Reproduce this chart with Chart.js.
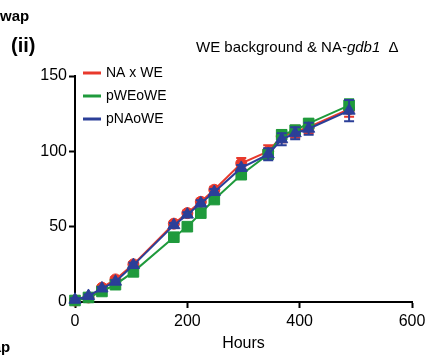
<!DOCTYPE html>
<html>
<head>
<meta charset="utf-8">
<script src="https://cdn.jsdelivr.net/npm/chart.js@4.4.1/dist/chart.umd.min.js"></script>
<style>
html,body{margin:0;padding:0;background:#fff;}
#wrap{width:425px;height:357px;position:relative;}
</style>
</head>
<body>
<div id="wrap"><canvas id="c" width="425" height="357"></canvas></div>
<script>
// ---- data ----
const hours = [0, 24, 48, 72, 104, 176, 200, 224, 248, 296, 344, 368, 392, 416, 488];
const seriesNames = ["NA x WE", "pWEoWE", "pNAoWE"];
const naxwe   = [1, 3, 9.5, 15, 25, 52, 59, 66.5, 74.5, 92, 100, 110, 113, 116, 128];
const pweowe  = [1, 3, 7, 11.5, 20, 43, 50, 59, 68, 84.5, 98, 111, 114, 118.5, 130.5];
const pnaowe  = [1.5, 4, 9, 13.5, 24.5, 51, 58, 65.5, 73, 89, 98, 108, 112, 115, 127];
const naxweErr  = [1, 1, 1, 1.5, 1.5, 1.5, 1.5, 2, 2, 3.5, 4, 4, 4, 4, 5];
const pweoweErr = [1, 1, 1, 1.5, 1.5, 1.5, 1.5, 2, 2, 2, 3, 3, 3, 3, 4];
const pnaoweErr = [1, 1, 1, 1, 1.5, 1.5, 1.5, 2, 2, 2, 4, 4, 4, 4, 7];
const xTicks = [0, 200, 400, 600];
const yTicks = [0, 50, 100, 150];
const titleParts = [["WE background & NA-", false], ["gdb1", true], ["  Δ", false]];

const RED = '#e8392c', GREEN = '#1f9a3c', BLUE = '#2b3f98';
const FONT = '"Liberation Sans", Arial, sans-serif';

function pts(v){ return hours.map((h,i)=>({x:h,y:v[i]})); }

const errPlugin = {
  id:'errbars',
  afterDatasetDraw(chart, args){
    const ds = chart.data.datasets[args.index];
    if(!ds.err) return;
    const ctx = chart.ctx, xs = chart.scales.x, ys = chart.scales.y;
    ctx.save();
    ctx.strokeStyle = ds.borderColor; ctx.lineWidth = 2;
    ds.data.forEach((p,i)=>{
      const e = ds.err[i];
      const px = xs.getPixelForValue(p.x);
      const y1 = ys.getPixelForValue(p.y + e), y2 = ys.getPixelForValue(p.y - e);
      ctx.beginPath();
      ctx.moveTo(px, y1); ctx.lineTo(px, y2);
      ctx.moveTo(px-5, y1); ctx.lineTo(px+5, y1);
      ctx.moveTo(px-5, y2); ctx.lineTo(px+5, y2);
      ctx.stroke();
    });
    ctx.restore();
  }
};

const decoPlugin = {
  id:'deco',
  afterDraw(chart){
    const ctx = chart.ctx;
    ctx.save();
    ctx.fillStyle = '#000';
    ctx.textBaseline = 'middle';
    // panel fragments
    ctx.font = 'bold 15px ' + FONT;
    ctx.textAlign = 'left';
    ctx.fillText('wap', 0, 17);
    ctx.fillText('wap', -19, 348);
    ctx.font = 'bold 20px ' + FONT;
    ctx.fillText('(ii)', 11, 46);
    // title
    let x = 196;
    titleParts.forEach(([t, it])=>{
      ctx.font = (it ? 'italic ' : '') + '15px ' + FONT;
      ctx.fillText(t, x, 48);
      x += ctx.measureText(t).width;
    });
    // legend
    const cols = [RED, GREEN, BLUE];
    const ly = [73, 96, 119];
    ctx.font = '14px ' + FONT;
    seriesNames.forEach((n,i)=>{
      ctx.strokeStyle = cols[i]; ctx.lineWidth = 3;
      ctx.beginPath(); ctx.moveTo(83, ly[i]); ctx.lineTo(101, ly[i]); ctx.stroke();
      ctx.fillStyle = '#000';
      ctx.fillText(n, 106, ly[i]);
    });
    ctx.restore();
  }
};

new Chart(document.getElementById('c'), {
  type:'line',
  data:{
    datasets:[
      {label:seriesNames[2], data:pts(pnaowe), err:pnaoweErr, borderColor:BLUE, backgroundColor:BLUE,
       pointStyle:'triangle', pointRadius:7, borderWidth:2, pointBorderWidth:1, order:0, clip:false},
      {label:seriesNames[0], data:pts(naxwe), err:naxweErr, borderColor:RED, backgroundColor:RED,
       pointStyle:'circle', pointRadius:5.5, borderWidth:2, pointBorderWidth:1, order:2, clip:false},
      {label:seriesNames[1], data:pts(pweowe), err:pweoweErr, borderColor:GREEN, backgroundColor:GREEN,
       pointStyle:'rect', pointRadius:7.5, borderWidth:2, pointBorderWidth:1, order:1, clip:false}
    ]
  },
  options:{
    responsive:false, animation:false,
    layout:{padding:{left:0, top:76, right:0, bottom:0}},
    plugins:{legend:{display:false}, tooltip:{enabled:false}, title:{display:false}},
    scales:{
      x:{type:'linear', min:0, max:600,
         afterBuildTicks(s){ s.ticks = xTicks.map(v=>({value:v})); },
         afterFit(s){ s.height = 55; s.paddingRight = 13; s.paddingLeft = 0; },
         grid:{drawOnChartArea:false, drawTicks:true, tickLength:6, tickColor:'#000', tickWidth:2},
         border:{display:true, color:'#000', width:2},
         ticks:{color:'#000', font:{family:FONT, size:16}, padding:4, maxRotation:0},
         title:{display:true, text:'Hours', color:'#000', font:{family:FONT, size:16}, padding:{top:8}}
      },
      y:{type:'linear', min:0, max:150,
         afterBuildTicks(s){ s.ticks = yTicks.map(v=>({value:v})); },
         afterFit(s){ s.width = 75; s.paddingTop = 0; s.paddingBottom = 0; },
         grid:{drawOnChartArea:false, drawTicks:true, tickLength:6, tickColor:'#000', tickWidth:2},
         border:{display:true, color:'#000', width:2},
         ticks:{color:'#000', font:{family:FONT, size:16}, padding:2}
      }
    }
  },
  plugins:[errPlugin, decoPlugin]
});
</script>
</body>
</html>
